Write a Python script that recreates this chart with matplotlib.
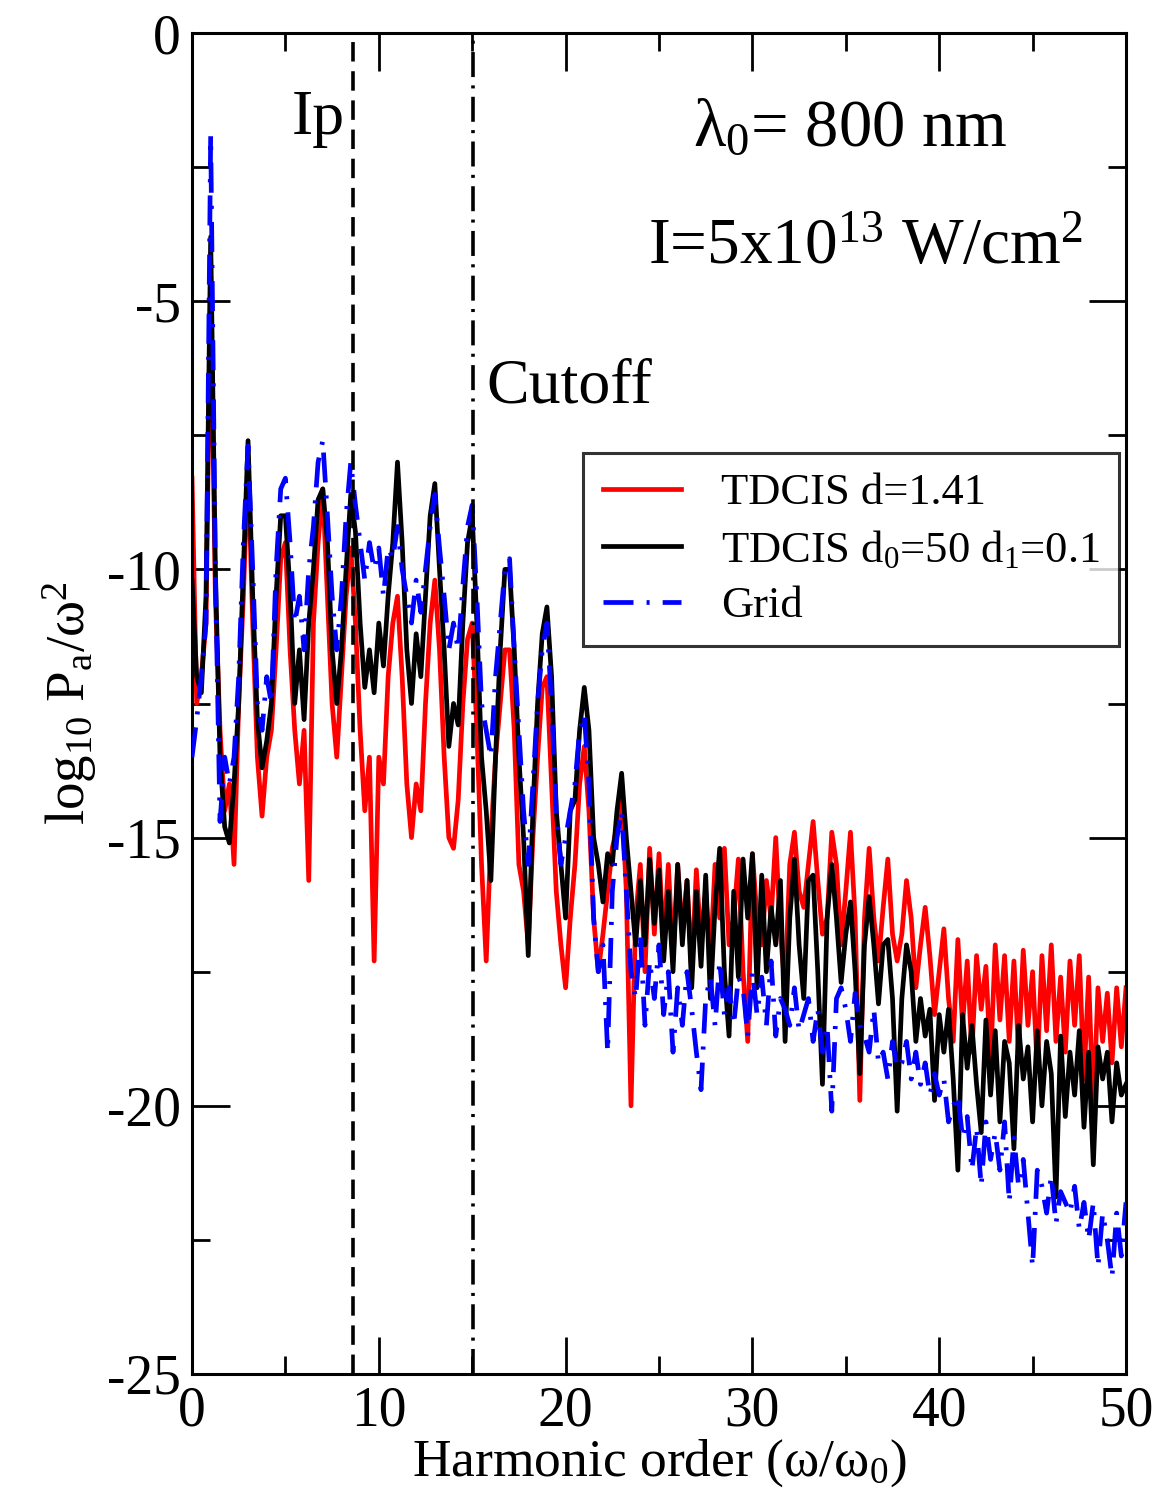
import numpy as np
import matplotlib
matplotlib.use("Agg")
import matplotlib.pyplot as plt

plt.rcParams['font.family'] = ['Liberation Serif', 'DejaVu Serif']
plt.rcParams['mathtext.fontset'] = 'custom'
plt.rcParams['mathtext.rm'] = 'Liberation Serif'
plt.rcParams['mathtext.it'] = 'Liberation Serif:italic'
plt.rcParams['mathtext.default'] = 'regular'
plt.rcParams['lines.scale_dashes'] = False
plt.rcParams['axes.unicode_minus'] = False

# harmonic order sampling (step 0.25 from 0 to 50)
harmonic = np.linspace(0, 50, 201)

tdcis_d141 = [
    -8.3, -12.5, -12.0, -11.0,  -4.5, -10.5, -13.0, -14.5,
    -14.0, -15.5, -12.5, -10.5,  -8.0, -11.0, -13.5, -14.6,
    -13.5, -13.0, -11.5, -9.8,  -9.5, -11.5, -13.0, -14.0,
    -13.0, -15.8, -11.0, -9.5,  -8.5, -10.5, -12.5, -13.5,
    -12.0, -10.5, -9.6, -11.0,  -13.0, -14.5, -13.5, -17.3,
    -13.5, -14.0, -12.0, -11.0,  -10.5, -12.0, -14.0, -15.0,
    -14.0, -14.5, -12.5, -11.0,  -10.2, -11.5, -13.5, -15.0,
    -15.2, -14.3, -12.5, -11.3,  -11.0, -13.0, -15.5, -17.3,
    -15.0, -13.5, -12.5, -11.5,  -11.5, -13.0, -15.5, -16.0,
    -17.0, -15.0, -13.5, -12.2,  -12.0, -14.0, -16.0, -17.0,
    -17.8, -16.5, -15.5, -14.0,  -13.3, -14.5, -16.5, -17.5,
    -16.8, -16.0, -15.2, -14.8,  -14.2, -16.0, -20.0, -16.5,
    -15.5, -17.5, -15.2, -16.8,  -15.3, -17.0, -15.5, -17.3,
    -15.5, -16.8, -15.8, -17.5,  -15.6, -17.0, -16.0, -17.3,
    -15.5, -16.5, -15.2, -17.0,  -16.5, -15.4, -17.5, -18.8,
    -15.3, -16.5, -17.0, -15.8,  -16.5, -15.0, -16.8, -17.8,
    -15.5, -14.9, -16.0, -16.3,  -15.5, -14.7, -15.8, -16.8,
    -16.5, -14.9, -15.5, -17.0,  -16.0, -14.9, -16.5, -19.9,
    -16.5, -15.2, -16.5, -17.3,  -16.3, -15.4, -16.8, -17.3,
    -16.8, -15.8, -16.5, -17.8,  -17.0, -16.3, -17.2, -18.3,
    -17.5, -16.7, -18.0, -18.8,  -16.9, -18.5, -17.3, -19.0,
    -17.2, -18.2, -17.4, -19.2,  -17.0, -18.4, -17.2, -18.8,
    -17.3, -19.0, -17.1, -18.5,  -17.5, -19.3, -17.2, -18.6,
    -17.0, -18.8, -17.6, -19.0,  -17.3, -18.5, -17.2, -19.5,
    -17.6, -20.1, -17.8, -18.8,  -17.9, -19.2, -17.8, -18.9,
    -17.8,
]

tdcis_d0_50 = [
    -10.2, -12.0, -12.3, -10.5,  -3.8, -10.0, -13.5, -14.8,
    -15.1, -14.0, -12.5, -10.0,  -7.6, -10.5, -12.8, -13.7,
    -13.2, -12.5, -10.5, -9.0,  -9.0, -10.4, -12.5, -11.5,
    -12.8, -11.0, -10.0, -8.7,  -8.5, -9.5, -11.5, -12.5,
    -11.5, -10.0, -8.6, -9.3,  -11.0, -12.2, -11.5, -12.3,
    -11.0, -11.8, -10.5, -9.5,  -8.0, -9.5, -11.5, -12.5,
    -11.2, -12.0, -10.5, -9.0,  -8.4, -10.0, -11.5, -13.3,
    -12.5, -12.9, -11.0, -9.5,  -9.0, -11.0, -13.5, -14.5,
    -15.8, -13.5, -11.5, -10.0,  -10.0, -11.5, -13.5, -15.0,
    -17.2, -14.5, -12.5, -11.2,  -10.7, -12.0, -14.5, -15.5,
    -16.5, -14.5, -14.3, -13.0,  -12.2, -13.0, -15.0, -15.5,
    -16.2, -15.3, -15.5, -14.5,  -13.8, -15.0, -16.0, -17.0,
    -15.8, -17.0, -15.4, -16.6,  -15.6, -17.3, -16.0, -17.5,
    -15.5, -17.0, -15.8, -17.8,  -16.0, -17.4, -15.7, -18.0,
    -16.3, -15.2, -17.5, -18.7,  -16.0, -17.6, -15.4, -16.5,
    -15.3, -17.8, -15.7, -17.5,  -16.3, -17.0, -15.8, -18.8,
    -16.5, -15.4, -17.0, -18.0,  -15.8, -15.7, -17.5, -19.6,
    -16.5, -15.5, -16.5, -17.7,  -16.8, -16.2, -17.5, -19.4,
    -17.0, -16.1, -17.0, -18.1,  -17.0, -16.9, -18.0, -20.1,
    -18.0, -17.0, -17.5, -18.8,  -18.0, -18.7, -18.2, -19.9,
    -18.3, -19.0, -18.2, -19.5,  -21.2, -18.3, -19.3, -18.5,
    -19.6, -20.5, -18.4, -19.8,  -18.6, -20.3, -18.8, -19.2,
    -20.8, -18.5, -19.5, -18.9,  -20.3, -18.6, -20.0, -18.8,
    -19.4, -21.7, -18.7, -20.2,  -19.0, -19.8, -18.6, -20.4,
    -19.0, -21.1, -18.9, -19.5,  -19.0, -20.3, -19.2, -19.8,
    -19.6,
]

grid = [
    -13.5, -12.8, -12.0, -11.0,  -1.9, -10.0, -14.7, -13.5,
    -14.0, -13.5, -12.0, -9.5,  -7.7, -10.0, -12.5, -13.0,
    -12.0, -12.5, -10.0, -8.5,  -8.3, -9.5, -11.0, -10.5,
    -11.5, -10.0, -9.2, -8.0,  -7.6, -9.0, -10.5, -11.5,
    -10.5, -9.0, -8.0, -8.8,  -9.5, -10.2, -9.5, -10.0,
    -9.6, -10.5, -9.6, -9.8,  -9.2, -10.0, -10.5, -11.0,
    -10.2, -10.8, -10.0, -9.2,  -8.6, -9.6, -10.5, -11.5,
    -11.0, -11.5, -10.3, -9.2,  -8.8, -10.5, -12.5, -13.0,
    -13.5, -12.0, -11.0, -10.0,  -9.8, -11.5, -13.0, -14.5,
    -15.5, -14.0, -12.5, -11.5,  -11.0, -12.5, -14.5, -15.5,
    -15.0, -14.5, -14.0, -13.0,  -12.7, -14.0, -16.5, -17.5,
    -17.0, -19.0, -16.0, -15.0,  -14.5, -16.0, -17.5, -18.0,
    -16.8, -18.5, -17.3, -18.0,  -17.0, -18.3, -17.5, -19.0,
    -17.8, -18.5, -17.5, -18.2,  -19.0, -19.7, -18.0, -17.6,
    -18.5, -17.3, -18.3, -17.8,  -18.5, -17.6, -17.8, -18.7,
    -17.5, -18.3, -17.6, -18.5,  -17.3, -18.7, -18.0, -18.2,
    -18.5, -17.8, -18.6, -18.3,  -18.0, -18.8, -18.2, -19.0,
    -18.5, -20.1, -18.0, -17.8,  -18.2, -18.8, -17.9, -18.5,
    -18.7, -19.0, -18.2, -19.2,  -19.0, -19.5, -18.8, -19.3,
    -19.2, -18.8, -19.5, -19.0,  -19.6, -19.2, -19.8, -19.4,
    -19.8, -19.5, -20.3, -20.0,  -19.8, -20.6, -20.2, -21.2,
    -20.4, -21.5, -20.3, -21.0,  -20.5, -21.2, -20.3, -21.8,
    -20.6, -21.5, -21.0, -22.0,  -23.0, -21.2, -21.5, -22.0,
    -21.3, -22.2, -21.6, -21.8,  -22.0, -21.5, -22.3, -21.8,
    -22.5, -21.8, -23.0, -22.0,  -22.5, -23.2, -22.0, -22.8,
    -21.8,
]

ip_order = 8.62
cutoff_order = 15.04

x_ticks = [0, 10, 20, 30, 40, 50]
y_ticks = [0, -5, -10, -15, -20, -25]

fig = plt.figure(figsize=(11.57, 15.10), dpi=100)
ax = fig.add_axes([192/1157, 1 - 1374/1510, (1126-192)/1157, (1374-33)/1510])

ax.plot(harmonic, tdcis_d141, color='#ff0000', lw=3.4, label='TDCIS d=1.41', zorder=2)
ax.plot(harmonic, tdcis_d0_50, color='black', lw=3.4,
        label='TDCIS d$_0$=50 d$_1$=0.1', zorder=3)
ax.plot(harmonic, grid, color='#0000ff', lw=3.4, ls=(0, (21.6, 9.4, 2.2, 9.4)),
        label='Grid', zorder=4)

ax.axvline(ip_order, color='black', lw=2.6, ls=(0, (14, 7)), zorder=5)
ax.axvline(cutoff_order, color='black', lw=2.6, ls=(0, (18, 6, 2.2, 6)), zorder=5)

ax.set_xlim(0, 50)
ax.set_ylim(-25, 0)
ax.set_xticks(x_ticks)
ax.set_yticks(y_ticks)
ax.set_xticks(np.arange(5, 50, 10), minor=True)
ax.set_yticks(np.arange(-22.5, 0, 5), minor=True)
ax.tick_params(which='both', direction='in', top=True, right=True, width=2,
               labelsize=40, pad=8)
ax.tick_params(which='major', length=27)
ax.tick_params(which='minor', length=13)
for s in ax.spines.values():
    s.set_linewidth(2.2)

ax.set_xlabel('Harmonic order (ω/ω$_0$)', fontsize=38.5, labelpad=0)
ax.set_ylabel('log$_{10}$ P$_a$/ω$^2$', fontsize=39.5, labelpad=6)

ax.text(6.75, -1.6, 'Ip', fontsize=46, ha='center', va='center')
ax.text(15.75, -6.6, 'Cutoff', fontsize=46, ha='left', va='center')
ax.text(26.8, -1.8, 'λ$_0$= 800 nm', fontsize=48, ha='left', va='center')
ax.text(24.4, -4.0, 'I=5x10$^{13}$ W/cm$^2$', fontsize=47, ha='left', va='center')

leg = ax.legend(loc='upper left', bbox_to_anchor=(0.4186, 0.6868), borderaxespad=0,
                fontsize=32, frameon=True, fancybox=False, edgecolor='black',
                handlelength=1.75, handletextpad=0.9, borderpad=0.45, labelspacing=0.35)
leg.get_frame().set_linewidth(2.2)

fig.savefig('out.png', dpi=100, facecolor='white')
